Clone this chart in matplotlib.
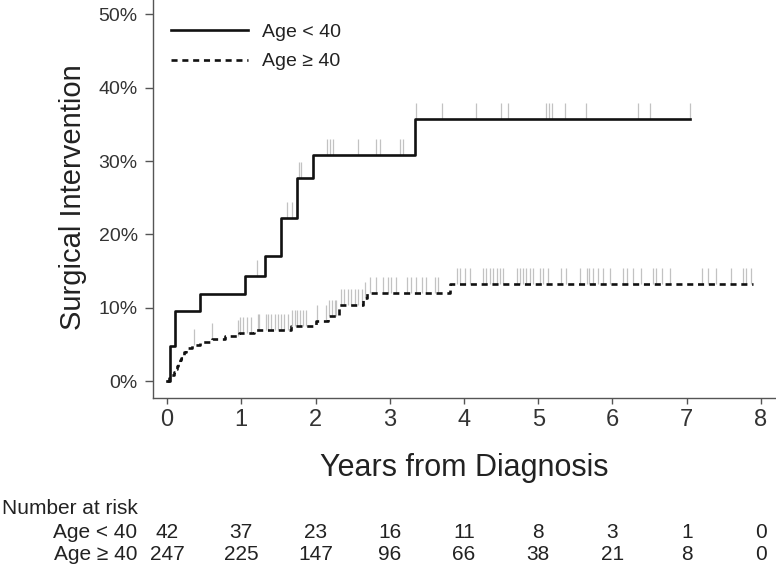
import numpy as np
import matplotlib
matplotlib.use("Agg")
import matplotlib.pyplot as plt
import matplotlib.transforms as mtransforms
from matplotlib.ticker import FuncFormatter

# Age < 40 : cumulative incidence steps (years, fraction)
young_t = [0, 0.04, 0.11, 0.44, 1.05, 1.32, 1.54, 1.75, 1.97, 3.34]
young_v = [0, 0.048, 0.095, 0.119, 0.143, 0.170, 0.222, 0.277, 0.308, 0.357]
young_end = 7.04
young_cens = [1.21, 1.61, 1.69, 1.78, 1.81, 2.15, 2.19, 2.23, 2.57, 2.82, 2.87,
              3.14, 3.18, 3.35, 3.71, 4.16, 4.50, 4.59, 5.11, 5.14, 5.18, 5.36,
              5.64, 6.34, 6.51, 7.04]

# Age >= 40
old_t = [0, 0.03, 0.06, 0.09, 0.11, 0.13, 0.15, 0.17, 0.19, 0.21, 0.23, 0.26,
         0.33, 0.45, 0.60, 0.78, 0.97, 1.17, 1.67, 2.01, 2.17, 2.31, 2.64, 2.70, 3.81]
old_v = [0, 0.004, 0.008, 0.012, 0.016, 0.020, 0.024, 0.028, 0.032, 0.036, 0.040,
         0.045, 0.049, 0.053, 0.057, 0.061, 0.065, 0.070, 0.075, 0.082, 0.089,
         0.104, 0.113, 0.120, 0.132]
old_end = 7.89
old_cens = [0.37, 0.60, 0.95, 0.98, 1.02, 1.08, 1.13, 1.22, 1.24, 1.33, 1.36, 1.40,
            1.45, 1.49, 1.53, 1.57, 1.63, 1.69, 1.72, 1.75, 1.79, 1.83, 1.87, 2.02,
            2.14, 2.18, 2.22, 2.26, 2.28, 2.35, 2.39, 2.44, 2.48, 2.53, 2.57, 2.62,
            2.66, 2.73, 2.82, 2.91, 2.98, 3.02, 3.09, 3.23, 3.29, 3.36, 3.43, 3.49,
            3.61, 3.65, 3.90, 3.94, 4.01, 4.08, 4.26, 4.30, 4.35, 4.39, 4.44, 4.48,
            4.53, 4.71, 4.75, 4.80, 4.84, 4.89, 4.93, 5.02, 5.06, 5.13, 5.31, 5.38,
            5.56, 5.65, 5.69, 5.74, 5.80, 5.87, 5.96, 6.14, 6.19, 6.28, 6.39, 6.55,
            6.59, 6.66, 6.77, 7.20, 7.29, 7.40, 7.60, 7.76, 7.80, 7.87]

groups = ["Age < 40", "Age \u2265 40"]
risk_times = [0, 1, 2, 3, 4, 5, 6, 7, 8]
risk_young = [42, 37, 23, 16, 11, 8, 3, 1, 0]
risk_old = [247, 225, 147, 96, 66, 38, 21, 8, 0]

plt.rcParams["font.family"] = ["Liberation Sans", "DejaVu Sans"]

fig = plt.figure(figsize=(7.76, 5.65), dpi=100)
ax = fig.add_axes([153 / 776, 1 - 398 / 565, 1 - 153 / 776, 398 / 565])


def draw_curve(t, v, end, cens, **kw):
    tt = list(t) + [end]
    vv = list(v) + [v[-1]]
    ax.step(tt, vv, where="post", **kw)
    idx = np.searchsorted(t, cens, side="right") - 1
    lev = np.array(v)[idx]
    ax.vlines(cens, lev, lev + 0.022, color="#c2c2c2", lw=0.9, zorder=1)


draw_curve(young_t, young_v, young_end, young_cens,
           color="#111111", lw=1.9, label=groups[0], zorder=3)
draw_curve(old_t, old_v, old_end, old_cens,
           color="#111111", lw=1.9, dashes=(2.3, 1.8), label=groups[1], zorder=3)

ax.set_xlim(-14 / 74.25, 609 / 74.25)
ax.set_ylim(-17 / 733, 381 / 733)
ax.set_xticks(risk_times)
ax.set_yticks([0, 0.1, 0.2, 0.3, 0.4, 0.5])
ax.yaxis.set_major_formatter(FuncFormatter(lambda y, p: f"{y * 100:.0f}%"))
for s in ["top", "right"]:
    ax.spines[s].set_visible(False)
for s in ["left", "bottom"]:
    ax.spines[s].set_color("#555555")
    ax.spines[s].set_linewidth(1.0)
ax.tick_params(axis="y", length=6, width=1, color="#555555", labelsize=14,
               labelcolor="#333333", pad=5)
ax.tick_params(axis="x", length=4.5, width=1, color="#555555", labelsize=17,
               labelcolor="#333333", pad=3.5)

ax.set_ylabel("Surgical Intervention", fontsize=21, color="#222222")
ax.yaxis.set_label_coords(-(153 - 87) / 623, 0.504)
ax.set_xlabel("Years from Diagnosis", fontsize=22, color="#222222", labelpad=16)

leg = ax.legend(loc="upper left", bbox_to_anchor=(0.0, 1 - 6 / 398), frameon=False,
                fontsize=14, handlelength=4.0, handletextpad=0.7,
                labelspacing=0.6, borderaxespad=0.5)
for txt in leg.get_texts():
    txt.set_color("#222222")

# number at risk table
tr = mtransforms.blended_transform_factory(ax.transData, fig.transFigure)
fig.text(2 / 776, 1 - 508 / 565, "Number at risk", fontsize=15,
         color="#222222", va="center", ha="left")
rows = [(risk_young, 1 - 533 / 565), (risk_old, 1 - 554 / 565)]
for (vals, yy), g in zip(rows, groups):
    fig.text(137 / 776, yy, g, fontsize=15, color="#222222",
             va="center", ha="right")
    for t, n in zip(risk_times, vals):
        ax.text(t, yy, str(n), transform=tr, fontsize=15,
                color="#222222", va="center", ha="center", clip_on=False)

fig.savefig("out.png", dpi=100)
